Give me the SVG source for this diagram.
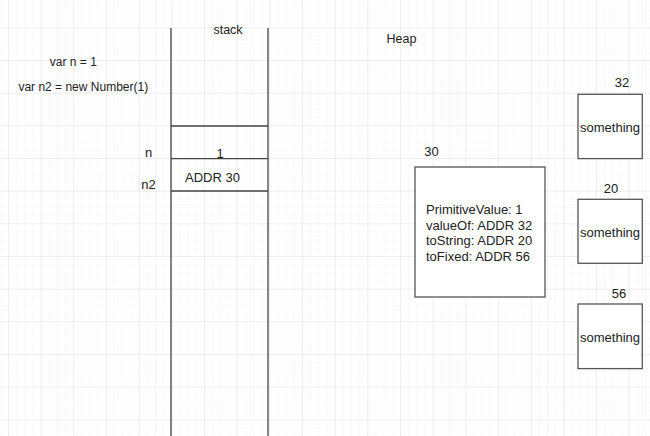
<svg xmlns="http://www.w3.org/2000/svg" width="650" height="436" viewBox="0 0 650 436">
<defs>
<pattern id="minor" x="8" y="27.3" width="8.167" height="8.167" patternUnits="userSpaceOnUse">
<path d="M0 0H8.167M0 0V8.167" fill="none" stroke="#f3f3f3" stroke-width="1"/>
</pattern>
<pattern id="major" x="8" y="27.3" width="32.67" height="32.67" patternUnits="userSpaceOnUse">
<path d="M0 0H32.67M0 0V32.67" fill="none" stroke="#e4e4e4" stroke-width="1"/>
</pattern>
</defs>
<style>
text{font-family:"Liberation Sans",Arial,sans-serif;font-size:13px;fill:#222}
.m{text-anchor:middle}
.s{font-size:12px}
.t{font-size:12.5px}
.ln{stroke:#444;stroke-width:1.3;fill:none}
.box{stroke:#555;stroke-width:1.3;fill:#fff}
</style>
<rect width="650" height="436" fill="#fff"/>
<rect width="650" height="436" fill="url(#minor)"/>
<rect width="650" height="436" fill="url(#major)"/>

<g id="code">
<text class="m s" x="73.3" y="66">var n = 1</text>
<text class="m s" x="83.3" y="90.5">var n2 = new Number(1)</text>
</g>

<g id="stack">
<path class="ln" d="M171 28V436M268 28V436M171 126H268M171 158.7H268M171 191H268"/>
<text class="m t" x="228" y="34">stack</text>
</g>

<g id="var-n">
<text class="m" x="148.5" y="157">n</text>
<text class="m" x="220" y="157.5">1</text>
</g>

<g id="var-n2">
<text class="m" x="148.5" y="188.5">n2</text>
<text x="185" y="182">ADDR 30</text>
</g>

<g id="heap-label">
<text class="m t" x="401.5" y="42.5">Heap</text>
</g>

<g id="obj30">
<text class="m" x="431.5" y="155.5">30</text>
<rect class="box" x="415" y="167" width="130" height="130"/>
<text x="426" y="214">PrimitiveValue: 1</text>
<text x="426" y="229.5">valueOf: ADDR 32</text>
<text x="426" y="245">toString: ADDR 20</text>
<text x="426" y="260.5">toFixed: ADDR 56</text>
</g>

<g id="obj32">
<text class="m" x="622" y="86.5">32</text>
<rect class="box" x="578" y="94.3" width="64.3" height="64.3"/>
<text class="m" x="610" y="131.5">something</text>
</g>

<g id="obj20">
<text class="m" x="611" y="193">20</text>
<rect class="box" x="578" y="199.3" width="64.3" height="64"/>
<text class="m" x="610" y="236.5">something</text>
</g>

<g id="obj56">
<text class="m" x="619" y="298">56</text>
<rect class="box" x="578" y="304" width="64.3" height="64.6"/>
<text class="m" x="610" y="341.5">something</text>
</g>

<g id="connectors"></g>
</svg>
